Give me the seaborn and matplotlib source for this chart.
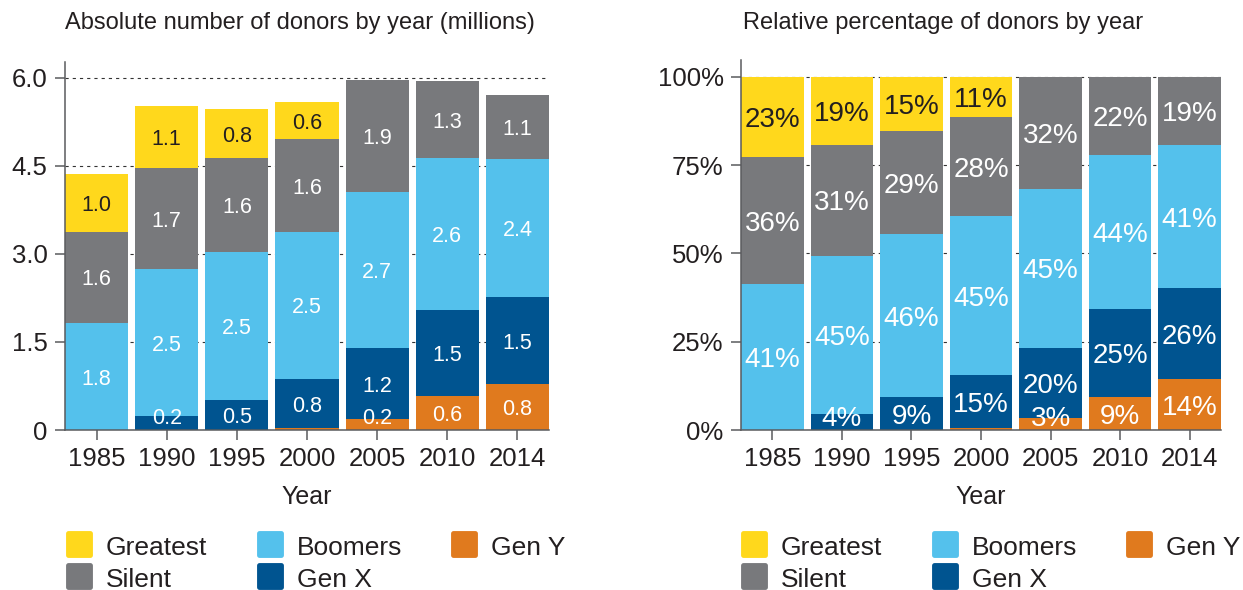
import matplotlib
matplotlib.use("Agg")
import matplotlib.pyplot as plt
from matplotlib.lines import Line2D
from matplotlib.markers import MarkerStyle
import numpy as np
import pandas as pd
import seaborn as sns

# ---------------- data ----------------
years = ["1985", "1990", "1995", "2000", "2005", "2010", "2014"]
generations = ["Gen Y", "Gen X", "Boomers", "Silent", "Greatest"]  # bottom -> top
legend_order = ["Greatest", "Silent", "Boomers", "Gen X", "Gen Y"]

abs_gen_y = [0.0, 0.0, 0.0, 0.03, 0.19, 0.58, 0.78]
abs_gen_x = [0.0, 0.24, 0.51, 0.84, 1.20, 1.46, 1.48]
abs_boomers = [1.82, 2.50, 2.53, 2.51, 2.67, 2.59, 2.36]
abs_silent = [1.56, 1.72, 1.59, 1.57, 1.91, 1.31, 1.09]
abs_greatest = [0.98, 1.06, 0.84, 0.63, 0.0, 0.0, 0.0]

pct_gen_y = [0.0, 0.0, 0.0, 0.5, 3.4, 9.3, 14.4]
pct_gen_x = [0.0, 4.4, 9.3, 15.1, 19.8, 25.0, 25.7]
pct_boomers = [41.4, 45.0, 46.2, 44.9, 45.1, 43.6, 40.6]
pct_silent = [35.8, 31.4, 29.2, 28.2, 31.7, 22.1, 19.3]
pct_greatest = [22.8, 19.2, 15.3, 11.3, 0.0, 0.0, 0.0]

abs_ticks = [0, 1.5, 3.0, 4.5, 6.0]
abs_tick_labels = ["0", "1.5", "3.0", "4.5", "6.0"]
pct_ticks = [0, 25, 50, 75, 100]
pct_tick_labels = ["0%", "25%", "50%", "75%", "100%"]

colors = {
    "Greatest": "#FFD81C",
    "Silent": "#78797C",
    "Boomers": "#54C1EC",
    "Gen X": "#005490",
    "Gen Y": "#E07A1E",
}
label_colors = {"Greatest": "#231F20"}

# ---------------- style ----------------
sns.set_theme(style="ticks")
plt.rcParams["font.family"] = ["Liberation Sans", "DejaVu Sans"]
plt.rcParams["lines.scale_dashes"] = False
TXT = "#231F20"
SPINE = "#5A5B5E"


def long_frame(series):
    rows = []
    for g, vals in zip(generations, series):
        for y, v in zip(years, vals):
            rows.append({"year": y, "gen": g, "value": v})
    df = pd.DataFrame(rows)
    df["gen"] = pd.Categorical(df["gen"], categories=generations, ordered=True)
    df = df.sort_values(["year", "gen"])
    df["top"] = df.groupby("year")["value"].cumsum()
    df["bottom"] = df["top"] - df["value"]
    return df


W, H = 1243, 590
fig = plt.figure(figsize=(W / 100, H / 100), dpi=100)
axL = fig.add_axes([65 / W, 1 - 430 / H, 484 / W, (430 - 62) / H])
axR = fig.add_axes([741 / W, 1 - 430 / H, 480 / W, (430 - 60) / H])

panels = [
    (axL, long_frame([abs_gen_y, abs_gen_x, abs_boomers, abs_silent, abs_greatest]),
     abs_ticks, abs_tick_labels, (0, 6.27), "{:.1f}", 0.05, 0.24, 15.5,
     "Absolute number of donors by year (millions)", 65, 66),
    (axR, long_frame([pct_gen_y, pct_gen_x, pct_boomers, pct_silent, pct_greatest]),
     pct_ticks, pct_tick_labels, (0, 104.8), "{:.0f}%", 2.0, 4.0, 20,
     "Relative percentage of donors by year", 743, 741),
]

for ax, df, ticks, tlabels, ylim, fmt, minv, miny, lsize, title, tx, lx in panels:
    # draw cumulative bars from the top series down so each overlays the last
    for g in reversed(generations):
        sub = df[df["gen"] == g]
        sns.barplot(data=sub, x="year", y="top", order=years, color=colors[g],
                    saturation=1, width=0.9, errorbar=None, linewidth=0, ax=ax,
                    zorder=2)
    for _, r in df.iterrows():
        if r["value"] < minv:
            continue
        yc = max(r["bottom"] + r["value"] / 2, miny)
        ax.text(years.index(r["year"]), yc, fmt.format(r["value"]),
                ha="center", va="center_baseline", fontsize=lsize,
                color=label_colors.get(r["gen"], "white"), zorder=5)

    ax.set_xlim(-0.45, 6.45)
    ax.set_ylim(*ylim)
    ax.set_yticks(ticks)
    ax.set_yticklabels(tlabels)
    ax.set_axisbelow(True)
    ax.yaxis.grid(True, linestyle=(0, (2.3, 2.9)), color="#333333", linewidth=0.8)
    ax.xaxis.grid(False)
    for s in ["top", "right"]:
        ax.spines[s].set_visible(False)
    for s in ["left", "bottom"]:
        ax.spines[s].set_color(SPINE)
        ax.spines[s].set_linewidth(1.1)
        ax.spines[s].set_zorder(6)
    ax.tick_params(axis="both", direction="out", length=7, width=1.1, color=SPINE,
                   labelsize=18.5, labelcolor=TXT, pad=5.5)
    ax.set_xlabel("Year", fontsize=18, color=TXT, labelpad=9.5)
    ax.set_ylabel("")
    fig.text(tx / W, 1 - 29 / H, title, fontsize=17, color=TXT, va="baseline",
             ha="left")

    handles = [Line2D([], [], linestyle="none",
                      marker=MarkerStyle("s", joinstyle="round"),
                      markersize=15.5, markeredgewidth=3.5,
                      markerfacecolor=colors[g], markeredgecolor=colors[g])
               for g in legend_order]
    ax.legend(handles, legend_order, ncol=3, loc="upper left",
              bbox_to_anchor=(lx / W, 1 - 534 / H),
              bbox_transform=fig.transFigure, frameon=False, fontsize=19,
              handlelength=0.985, handleheight=0.985, handletextpad=0.53,
              columnspacing=1.87, labelspacing=0.23, borderpad=0,
              borderaxespad=0, labelcolor=TXT)

fig.savefig("out.png", dpi=100)
